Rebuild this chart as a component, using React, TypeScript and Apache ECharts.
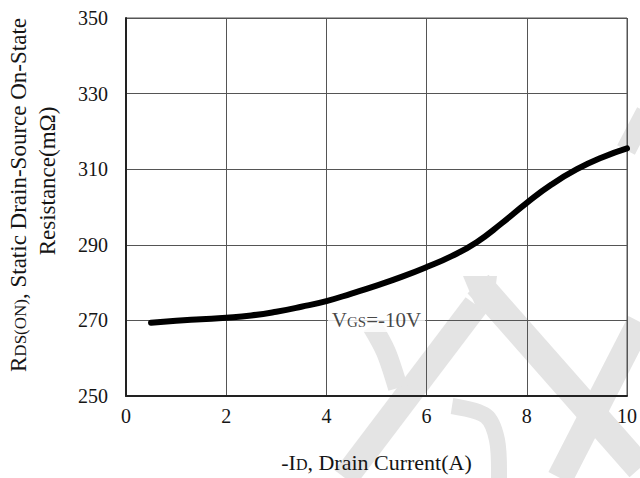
import React, { useEffect, useRef } from "react";
import * as echarts from "echarts";

const xValues = [0.5, 1, 1.5, 2, 2.5, 3, 3.5, 4, 4.5, 5, 5.5, 6, 6.5, 7, 7.5, 8, 8.5, 9, 9.5, 10];
const yValues = [269.4, 269.9, 270.3, 270.7, 271.3, 272.3, 273.6, 275.1, 277.1, 279.2, 281.5, 284.1, 287.0, 290.7, 295.7, 301.1, 306.0, 310.0, 313.1, 315.5];
const labelPoint = [5, 270];
const xMin = 0, xMax = 10, xStep = 2;
const yMin = 250, yMax = 350, yStep = 20;

const FONT = "'Liberation Serif', 'Times New Roman', serif";
const TXT = "#151515";
const WM = "#e4e4e4";

export default function App() {
  const ref = useRef<HTMLDivElement>(null);
  useEffect(() => {
    if (!ref.current) return;
    const chart = echarts.init(ref.current, undefined, { renderer: "svg" });
    const wm = (points: number[][], w: number) => ({
      type: "polyline",
      z: -100,
      silent: true,
      shape: { points, smooth: 0.3 },
      style: { stroke: WM, lineWidth: w, fill: null, lineCap: "butt" },
    });
    chart.setOption({
      animation: false,
      grid: { left: 126, right: 9, top: 18, bottom: 80, show: true, borderColor: "#555", borderWidth: 1, backgroundColor: "transparent" },
      graphic: [
        wm([[478, 284], [640, 468]], 28),
        wm([[476, 305], [345, 478]], 26),
        wm([[372, 326], [386, 352], [398, 388]], 20),
        wm([[452, 406], [486, 416], [497, 440], [499, 478]], 16),
        wm([[640, 322], [560, 478]], 26),
        wm([[646, 112], [626, 150]], 20),
        {
          type: "polygon",
          z: -100,
          silent: true,
          shape: { points: [[463, 276], [497, 276], [494, 300], [478, 312]] },
          style: { fill: WM },
        },
        {
          type: "text",
          x: 18,
          y: 195,
          rotation: Math.PI / 2,
          style: {
            text: "{a|R}{b|DS(ON)}{a|, Static Drain-Source On-State}",
            align: "center",
            verticalAlign: "middle",
            rich: {
              a: { fontFamily: FONT, fontSize: 23, fill: TXT, verticalAlign: "bottom" },
              b: { fontFamily: FONT, fontSize: 17, fill: TXT, verticalAlign: "bottom", padding: [0, 0, 1, 0] },
            },
          },
        },
        {
          type: "text",
          x: 47,
          y: 181,
          rotation: Math.PI / 2,
          style: {
            text: "Resistance(mΩ)",
            align: "center",
            verticalAlign: "middle",
            fontFamily: FONT,
            fontSize: 23,
            fill: TXT,
          },
        },
      ],
      xAxis: {
        type: "value",
        min: xMin,
        max: xMax,
        interval: xStep,
        name: "{a|-I}{b|D}{a|, Drain Current(A)}",
        nameLocation: "middle",
        nameGap: 55,
        nameTextStyle: {
          rich: {
            a: { fontFamily: FONT, fontSize: 22, color: TXT, verticalAlign: "bottom" },
            b: { fontFamily: FONT, fontSize: 16, color: TXT, verticalAlign: "bottom", padding: [0, 0, 1, 0] },
          },
        },
        axisLine: { show: true, lineStyle: { color: "#222", width: 2 } },
        axisTick: { show: false },
        axisLabel: { fontFamily: FONT, fontSize: 20, color: TXT, margin: 10 },
        splitLine: { show: true, lineStyle: { color: "#555", width: 1 } },
      },
      yAxis: {
        type: "value",
        min: yMin,
        max: yMax,
        interval: yStep,
        axisLine: { show: true, lineStyle: { color: "#222", width: 2 } },
        axisTick: { show: false },
        axisLabel: { fontFamily: FONT, fontSize: 20, color: TXT, margin: 18 },
        splitLine: { show: true, lineStyle: { color: "#555", width: 1 } },
      },
      series: [
        {
          type: "line",
          data: xValues.map((x, i) => [x, yValues[i]]),
          smooth: 0.5,
          symbol: "none",
          lineStyle: { color: "#000", width: 6, cap: "round" },
          z: 3,
        },
        {
          type: "scatter",
          data: [labelPoint],
          symbolSize: 0,
          z: 4,
          label: {
            show: true,
            position: "inside",
            formatter: "{a|V}{b|GS}{a|=-10V}",
            backgroundColor: "#fff",
            padding: [1, 4, 1, 4],
            rich: {
              a: { fontFamily: FONT, fontSize: 21, color: TXT, verticalAlign: "bottom" },
              b: { fontFamily: FONT, fontSize: 15, color: TXT, verticalAlign: "bottom", padding: [0, 0, 1, 0] },
            },
          },
        },
      ],
    });
    return () => chart.dispose();
  }, []);
  return <div ref={ref} style={{ width: 640, height: 478, position: "absolute", left: 0, top: 0 }} />;
}
